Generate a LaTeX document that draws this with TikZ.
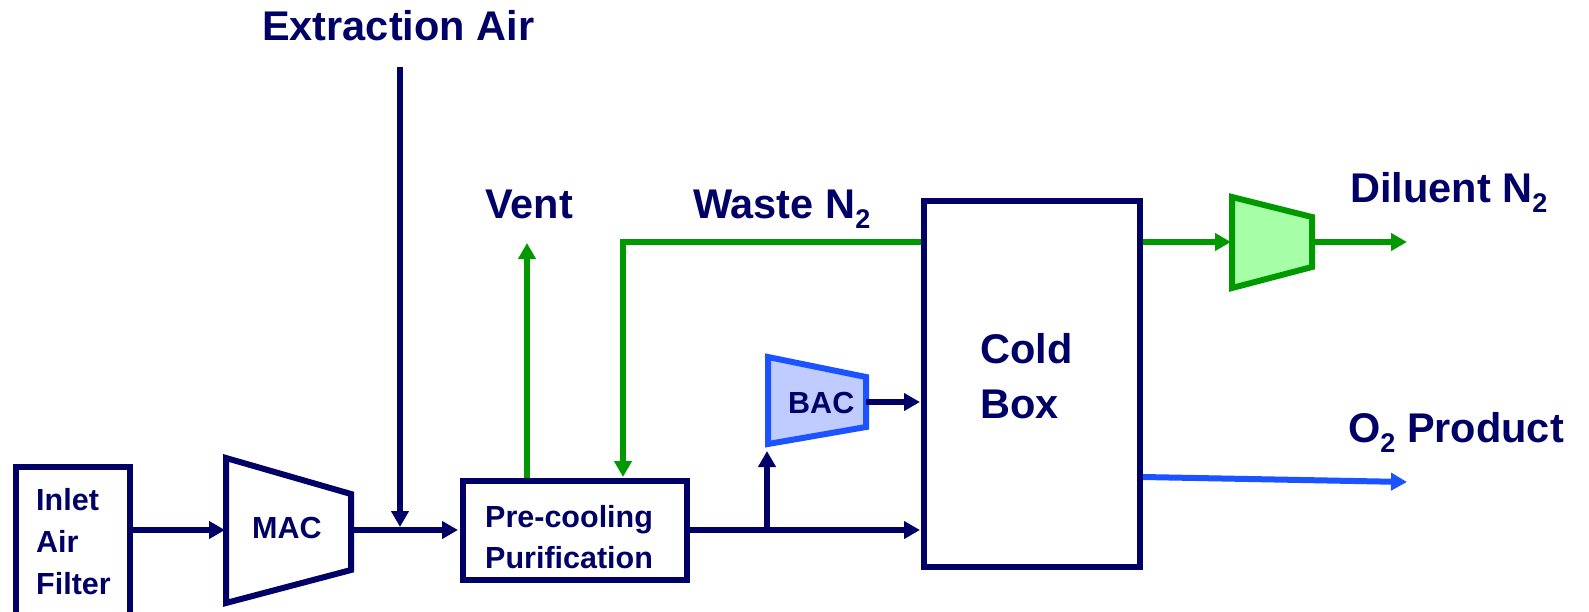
\documentclass[tikz,border=0pt]{standalone}
\usepackage{fontspec}
\setmainfont{Liberation Sans}
\usetikzlibrary{arrows.meta}
\definecolor{navy}{RGB}{0,0,102}
\definecolor{grn}{RGB}{0,153,0}
\definecolor{lgrn}{RGB}{166,255,166}
\definecolor{blu}{RGB}{26,83,255}
\definecolor{lblu}{RGB}{192,204,255}
\newcommand{\lowtwo}{\raisebox{-10pt}{\fontsize{27}{27}\selectfont 2}}
\begin{document}
\begin{tikzpicture}[x=1pt,y=-1pt,
  box/.style={draw=navy, line width=6pt, fill=white, inner sep=0pt},
  big/.style={text=navy, font=\fontsize{41.5}{49}\selectfont\bfseries, inner sep=0pt, anchor=base west},
  small/.style={text=navy, font=\fontsize{30.5}{36}\selectfont\bfseries, inner sep=0pt, anchor=base west},
  tip/.style={-{Triangle[length=16pt,width=17pt]}},
  flow/.style={draw=navy, line width=6pt, tip},
  gflow/.style={draw=grn, line width=6pt, line join=miter, tip},
  bflow/.style={draw=blu, line width=6pt, tip},
  comp/.style={line width=6pt, line join=miter}
]
\useasboundingbox (0,0) rectangle (1589,611);
\clip (0,0) rectangle (1589,611);

% boxes
\node[box, minimum width=114pt, minimum height=200pt] (filter) at (73,567) {};
\node[box, minimum width=224pt, minimum height=99pt] (pre) at (575,530.5) {};
\node[box, minimum width=216pt, minimum height=366pt] (cold) at (1032,384) {};

% compressors
\draw[comp, draw=navy, fill=white] (226,458) -- (351,494) -- (351,570) -- (226,603) -- cycle;
\draw[comp, draw=blu, fill=lblu] (768,357) -- (866,377) -- (866,427) -- (768,444) -- cycle;
\draw[comp, draw=grn, fill=lgrn] (1232,197) -- (1312,217) -- (1312,267) -- (1232,288) -- cycle;

% named points
\coordinate (macin) at (226,530);
\coordinate (macout) at (351,530);
\coordinate (extop) at (400,67);
\coordinate (exjoin) at (400,527);
\coordinate (vent) at (527,243);
\coordinate (wcorner) at (623,242);
\coordinate (bacfoot) at (767,527);
\coordinate (bacbot) at (767,451);
\coordinate (bacout) at (866,402);
\coordinate (n2in) at (1232,242);
\coordinate (n2out) at (1312,242);
\coordinate (dilend) at (1407,242);
\coordinate (o2start) at (1140,477);
\coordinate (o2end) at (1407,482);

% connectors
\draw[flow, shorten >=1pt] (filter.east |- macin) -- (macin);
\draw[flow] (extop) -- (exjoin);
\draw[flow, shorten >=2pt] (macout) -- (pre.west |- macout);
\draw[gflow] (pre.north -| vent) -- (vent);
\draw[gflow, shorten >=1pt] (cold.west |- wcorner) -- (wcorner) -- (pre.north -| wcorner);
\draw[flow, shorten >=1pt] (pre.east |- macout) -- (cold.west |- macout);
\draw[flow] (bacfoot) -- (bacbot);
\draw[flow, shorten >=1pt] (bacout) -- (cold.west |- bacout);
\draw[gflow, shorten >=1pt] (cold.east |- n2in) -- (n2in);
\draw[gflow] (n2out) -- (dilend);
\draw[bflow] (cold.east |- o2start) -- (o2end);

% texts
\node[big] (extxt) at (262,40) {Extraction Air};
\node[big] (venttxt) at (485,218) {Vent};
\node[big] (wastetxt) at (693,218) {Waste N\lowtwo};
\node[big] (diltxt) at (1350,202) {Diluent N\lowtwo};
\node[big] (o2txt) at (1348,442) {O\lowtwo\ Product};
\node[big] (coldA) at (980,363) {Cold};
\node[big] (coldB) at (980,418) {Box};
\node[small] (filA) at (36,510) {Inlet};
\node[small] (filB) at (36,552) {Air};
\node[small] (filC) at (36,594) {Filter};
\node[small] (mactxt) at (252,538) {MAC};
\node[small] (preA) at (485,527) {Pre-cooling};
\node[small] (preB) at (485,568) {Purification};
\node[small] (bactxt) at (788,413) {BAC};
\end{tikzpicture}
\end{document}
